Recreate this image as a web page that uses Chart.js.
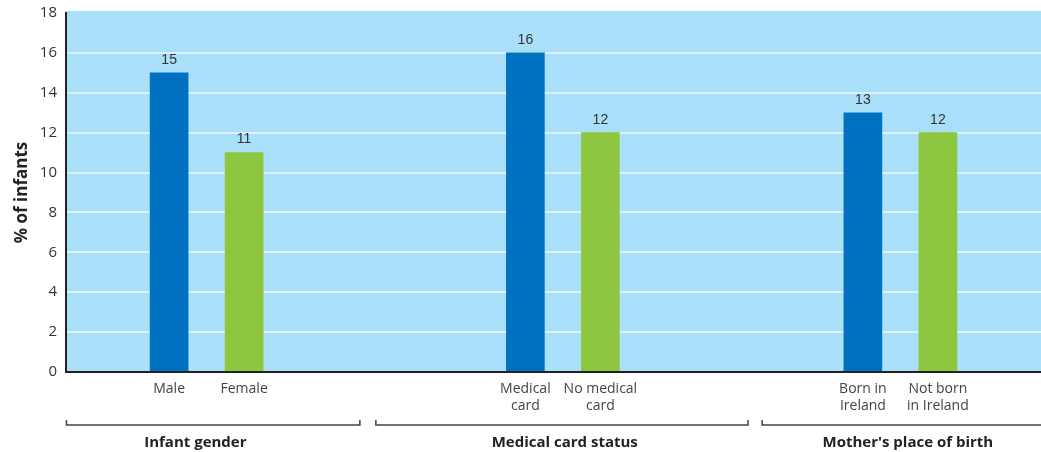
<!DOCTYPE html>
<html>
<head>
<meta charset="utf-8">
<title>% of infants</title>
<script src="https://cdn.jsdelivr.net/npm/chart.js@4.4.1/dist/chart.umd.min.js"></script>
<style>
  html, body { margin: 0; padding: 0; background: #fff; }
  #wrap { width: 1041px; height: 452px; position: relative; }
</style>
</head>
<body>
<div id="wrap"><canvas id="myChart"></canvas></div>
<script>
// values
const groups = ['Infant gender', 'Medical card status', "Mother's place of birth"];
const categories = [['Male'], ['Female'], ['Medical', 'card'], ['No medical', 'card'], ['Born in', 'Ireland'], ['Not born', 'in Ireland']];
const values = [15, 11, 16, 12, 13, 12];
const yTicks = [0, 2, 4, 6, 8, 10, 12, 14, 16, 18];

// horizontal layout, counted in empty category slots
const layout = {
  lead: 5,
  pairGap: 3,
  groupGap: [14, 13],
  tail: 5,
  brackets: [[0, 15.7], [16.5, 36.4], [37.1, 52.2]],
  groupLabelAt: [6.9, 26.6, 44.9]
};

const BLUE = '#0070c0';
const GREEN = '#8dc63f';
const PLOT_BG = '#aadff9';
const TEXT = '#333';

// spread the bars over the slots, blanks in between
const labels = [];
const barData = [];
const barColors = [];
function pushBlank(n) {
  for (let i = 0; i < n; i++) { labels.push(''); barData.push(null); barColors.push(BLUE); }
}
pushBlank(layout.lead);
categories.forEach(function(cat, i) {
  labels.push(cat);
  barData.push(values[i]);
  barColors.push(i % 2 === 0 ? BLUE : GREEN);
  if (i === categories.length - 1) return;
  if (i % 2 === 0) pushBlank(layout.pairGap);
  else pushBlank(layout.groupGap[(i - 1) / 2]);
});
pushBlank(layout.tail);

const plotBackground = {
  id: 'plotBackground',
  beforeDraw(chart) {
    const { ctx, chartArea: a } = chart;
    ctx.save();
    ctx.fillStyle = PLOT_BG;
    ctx.fillRect(a.left, a.top - 2, a.right - a.left, a.bottom - a.top + 2);
    ctx.restore();
  },
  afterDatasetsDraw(chart) {
    // baseline across the whole plot
    const { ctx, chartArea: a } = chart;
    ctx.save();
    ctx.strokeStyle = '#222';
    ctx.lineWidth = 2;
    ctx.beginPath();
    ctx.moveTo(a.left, a.bottom);
    ctx.lineTo(chart.width, a.bottom);
    ctx.stroke();
    ctx.restore();
  }
};

const valueLabels = {
  id: 'valueLabels',
  afterDatasetsDraw(chart) {
    const ctx = chart.ctx;
    const meta = chart.getDatasetMeta(0);
    ctx.save();
    ctx.fillStyle = TEXT;
    ctx.font = '14px "Liberation Sans", Arial, sans-serif';
    ctx.textAlign = 'center';
    ctx.textBaseline = 'bottom';
    meta.data.forEach(function(bar, i) {
      const v = barData[i];
      if (v === null) return;
      ctx.fillText(String(v), bar.x, bar.y - 6);
    });
    ctx.restore();
  }
};

const groupBrackets = {
  id: 'groupBrackets',
  afterDraw(chart) {
    const ctx = chart.ctx;
    const x = chart.scales.x;
    const slot = (x.right - x.left) / labels.length;
    const px = u => x.left + u * slot;
    const y = 425;
    ctx.save();
    ctx.strokeStyle = '#444';
    ctx.lineWidth = 1.5;
    layout.brackets.forEach(function(b) {
      ctx.beginPath();
      ctx.moveTo(px(b[0]) + 0.5, y - 5);
      ctx.lineTo(px(b[0]) + 0.5, y);
      ctx.lineTo(px(b[1]) - 0.5, y);
      ctx.lineTo(px(b[1]) - 0.5, y - 5);
      ctx.stroke();
    });
    ctx.fillStyle = '#222';
    ctx.font = 'bold 15px "Open Sans", sans-serif';
    ctx.textAlign = 'center';
    ctx.textBaseline = 'middle';
    groups.forEach(function(g, i) {
      ctx.fillText(g, px(layout.groupLabelAt[i]), 443);
    });
    ctx.restore();
  }
};

const ctx = document.getElementById('myChart').getContext('2d');
new Chart(ctx, {
  type: 'bar',
  data: {
    labels: labels,
    datasets: [{
      data: barData,
      backgroundColor: barColors,
      barThickness: 38,
      borderWidth: 0
    }]
  },
  options: {
    responsive: true,
    maintainAspectRatio: false,
    animation: false,
    layout: { padding: { top: 13, right: 0, bottom: 0, left: 0 } },
    plugins: {
      legend: { display: false },
      tooltip: { enabled: false }
    },
    scales: {
      x: {
        grid: { display: false, drawTicks: false },
        border: { display: false },
        ticks: {
          autoSkip: false,
          maxRotation: 0,
          minRotation: 0,
          padding: 8,
          color: '#444',
          font: { family: '"Open Sans", sans-serif', size: 14, lineHeight: 1.25 }
        },
        afterFit(scale) {
          scale.height = 80;
          scale.paddingLeft = 0;
          scale.paddingRight = 0;
        }
      },
      y: {
        min: 0,
        max: 18,
        afterBuildTicks(scale) { scale.ticks = yTicks.map(v => ({ value: v })); },
        grid: {
          drawTicks: false,
          lineWidth: 2,
          color: c => (c.tick && (c.tick.value === 0 || c.tick.value === 18)) ? 'rgba(0,0,0,0)' : '#dcf1fc'
        },
        border: { color: '#222', width: 2 },
        ticks: {
          padding: 9,
          color: TEXT,
          font: { family: '"Open Sans", sans-serif', size: 15 }
        },
        title: {
          display: true,
          text: '% of infants',
          color: '#222',
          padding: { top: 12, bottom: 0 },
          font: { family: '"Open Sans", sans-serif', size: 17, weight: 'bold' }
        },
        afterFit(scale) {
          scale.width = 66;
          scale.paddingTop = 0;
          scale.paddingBottom = 0;
        }
      }
    }
  },
  plugins: [plotBackground, valueLabels, groupBrackets]
});
</script>
</body>
</html>
